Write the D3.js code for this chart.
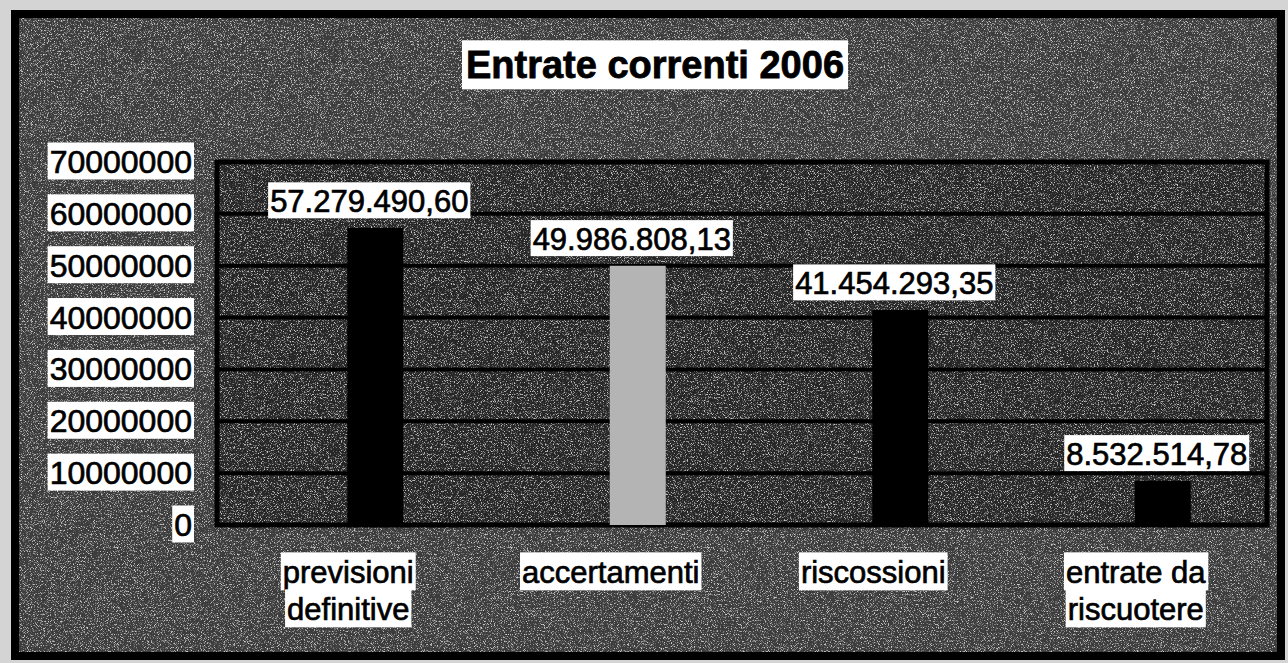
<!DOCTYPE html>
<html><head><meta charset="utf-8">
<script src="https://cdn.jsdelivr.net/npm/d3@7"></script>
<style>html,body{margin:0;padding:0;background:#d4d4d4;overflow:hidden}</style>
</head><body>
<svg id="chart" width="1288" height="663"></svg>
<script>
const title = "Entrate correnti 2006";
const categories = ["previsioni definitive", "accertamenti", "riscossioni", "entrate da riscuotere"];
const categoryLines = [["previsioni", "definitive"], ["accertamenti"], ["riscossioni"], ["entrate da", "riscuotere"]];
const values = [57279490.60, 49986808.13, 41454293.35, 8532514.78];
const valueLabels = ["57.279.490,60", "49.986.808,13", "41.454.293,35", "8.532.514,78"];
const yTicks = [0, 10000000, 20000000, 30000000, 40000000, 50000000, 60000000, 70000000];
const yTickLabels = ["0", "10000000", "20000000", "30000000", "40000000", "50000000", "60000000", "70000000"];
const barColors = ["#000000", "#b4b4b4", "#000000", "#000000"];

const W = 1288, H = 663;
const plot = {left: 217, right: 1267, top: 162, bottom: 525};
const svg = d3.select("#chart");
const font = "Arial, 'Liberation Sans', sans-serif";

// speckle filter to mimic the scanned texture
const defs = svg.append("defs");
const f = defs.append("filter").attr("id", "grain").attr("x", 0).attr("y", 0).attr("width", "100%").attr("height", "100%");
f.append("feTurbulence").attr("type", "fractalNoise").attr("baseFrequency", 1.3).attr("numOctaves", 1).attr("seed", 7).attr("result", "n");
f.append("feColorMatrix").attr("in", "n").attr("type", "matrix")
  .attr("values", "0 0 0 0 1  0 0 0 0 1  0 0 0 0 1  5 0 0 0 -2.6");

// outer frame
svg.append("rect").attr("x", 15).attr("y", 14).attr("width", 1266).attr("height", 642)
  .attr("fill", "#3c3c3c").attr("stroke", "#000").attr("stroke-width", 8);
// plot area
svg.append("rect").attr("x", plot.left).attr("y", plot.top)
  .attr("width", plot.right - plot.left).attr("height", plot.bottom - plot.top)
  .attr("fill", "#262626");
// grain overlay
svg.append("rect").attr("x", 19).attr("y", 18).attr("width", 1258).attr("height", 634)
  .attr("filter", "url(#grain)").attr("opacity", 0.75);

const x = d3.scaleBand().domain(categories).range([plot.left, plot.right]);
const y = d3.scaleLinear().domain([0, 70000000]).range([plot.bottom, plot.top]);

// gridlines
svg.append("g").selectAll("line").data(yTicks).join("line")
  .attr("x1", plot.left).attr("x2", plot.right)
  .attr("y1", d => y(d)).attr("y2", d => y(d))
  .attr("stroke", "#000").attr("stroke-width", 4);
// plot border
svg.append("rect").attr("x", plot.left).attr("y", plot.top)
  .attr("width", plot.right - plot.left).attr("height", plot.bottom - plot.top)
  .attr("fill", "none").attr("stroke", "#000").attr("stroke-width", 5);

// bars
const barW = 56, barShift = 27;
const bx = c => x(c) + x.bandwidth() / 2 + barShift;
svg.append("g").selectAll("rect").data(categories).join("rect")
  .attr("x", c => bx(c) - barW / 2)
  .attr("y", (c, i) => y(values[i]))
  .attr("width", barW)
  .attr("height", (c, i) => y(0) - y(values[i]))
  .attr("fill", (c, i) => barColors[i]);

function boxedText(g, tx, ty, str, size, weight, anchor, padX, padTop, padBot) {
  const grp = g.append("g");
  const r = grp.append("rect").attr("fill", "#fff");
  const t = grp.append("text").attr("x", tx).attr("y", ty).attr("text-anchor", anchor)
    .attr("font-family", font).attr("font-size", size).attr("font-weight", weight)
    .attr("fill", "#000").attr("stroke", "#000").attr("stroke-width", weight === "bold" ? 0.8 : 0.7)
    .text(str);
  const b = t.node().getBBox();
  r.attr("x", b.x - padX).attr("y", ty - size * 0.86 - padTop)
   .attr("width", b.width + 2 * padX).attr("height", size * 0.86 + padTop + padBot + size * 0.14);
  return grp;
}

// title
boxedText(svg, 655, 78, title, 38, "bold", "middle", 4, 5, 6);

// y tick labels
const yg = svg.append("g");
yTicks.forEach((t, i) => boxedText(yg, 192, y(t) + 11, yTickLabels[i], 32, "normal", "end", 2, 3, 2));

// value labels
const vg = svg.append("g");
categories.forEach((c, i) => boxedText(vg, bx(c) - 6, y(values[i]) - 16, valueLabels[i], 31, "normal", "middle", 2, 3, 2));

// category labels
const cg = svg.append("g");
categories.forEach((c, i) => {
  categoryLines[i].forEach((ln, j) => {
    boxedText(cg, x(c) + x.bandwidth() / 2, 583 + j * 37, ln, 31, "normal", "middle", 2, 4, 3);
  });
});
</script>
</body></html>
